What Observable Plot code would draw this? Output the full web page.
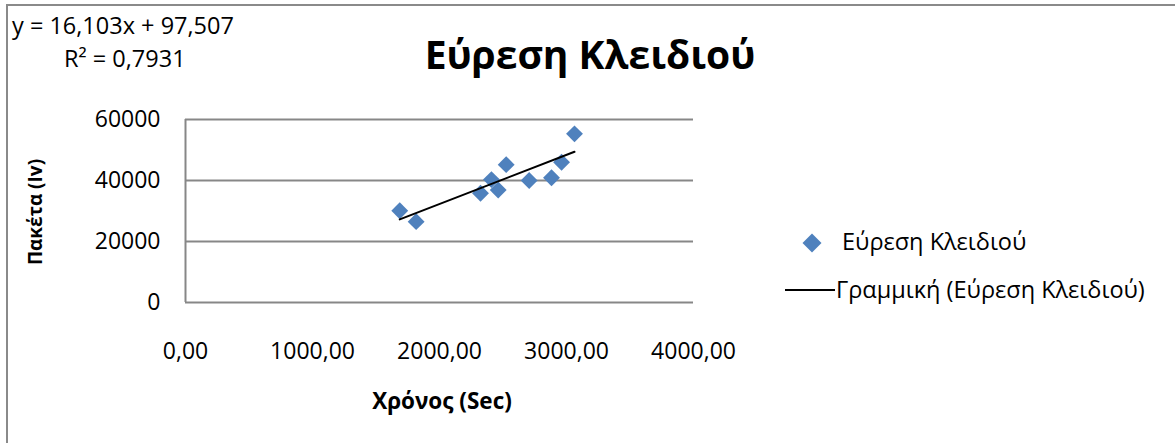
<!DOCTYPE html>
<html><head><meta charset="utf-8">
<script src="https://cdn.jsdelivr.net/npm/d3@7"></script>
<script src="https://cdn.jsdelivr.net/npm/@observablehq/plot@0.6"></script>
<style>
body{margin:0;background:#fff;}
#wrap{position:relative;width:1175px;height:443px;overflow:hidden;font-family:"Open Sans",sans-serif;background:#fff;}
#frame{position:absolute;left:6px;top:4px;width:1300px;height:600px;border-left:2px solid #8a8a8a;border-top:2px solid #8a8a8a;}
#chart{position:absolute;left:0;top:0;}
#overlay{position:absolute;left:0;top:0;}
</style></head><body>
<div id="wrap"><div id="frame"></div><div id="chart"></div>
<svg id="overlay" width="1175" height="443" font-family="Open Sans" fill="#000">
  <text x="12" y="34" font-size="23.5">y = 16,103x + 97,507</text>
  <text x="64" y="67" font-size="23.5">R² = 0,7931</text>
  <text x="590" y="69" font-size="39" font-weight="bold" text-anchor="middle">Εύρεση Κλειδιού</text>
  <text transform="translate(42,212) rotate(-90)" font-size="19" font-weight="bold" text-anchor="middle">Πακέτα (Iv)</text>
  <text x="442" y="409" font-size="22.5" font-weight="bold" text-anchor="middle">Χρόνος (Sec)</text>
  <path d="M812,233.5 L821.5,243 L812,252.5 L802.5,243 Z" fill="#4F81BD"/>
  <text x="842" y="250" font-size="23.5">Εύρεση Κλειδιού</text>
  <line x1="785" x2="835" y1="290" y2="290" stroke="#000" stroke-width="2"/>
  <text x="836" y="298" font-size="23.5">Γραμμική (Εύρεση Κλειδιού)</text>
</svg>
</div>
<script>
const times = [1687, 1816, 2323, 2409, 2462, 2525, 2706, 2882, 2961, 3063];
const packets = [30100, 26500, 35800, 40300, 36900, 45200, 40000, 40900, 46000, 55300];
const slope = 16.103, intercept = 97.507;
const xTicks = [0, 1000, 2000, 3000, 4000];
const yTicks = [0, 20000, 40000, 60000];

const data = times.map((t, i) => ({t, p: packets[i]}));
const trend = [d3.min(times), d3.max(times)].map(t => ({t, p: slope * t + intercept}));

const chart = Plot.plot({
  width: 1175, height: 443,
  marginLeft: 185, marginRight: 482, marginTop: 119, marginBottom: 141,
  style: {fontFamily: "Open Sans", fontSize: "23px", color: "#000", background: "transparent", overflow: "visible"},
  x: {domain: [0, 4000], ticks: xTicks, tickFormat: d => d.toFixed(2).replace(".", ","), tickSize: 0, tickPadding: 40, label: null},
  y: {domain: [0, 60000], ticks: yTicks, tickFormat: d => String(d), tickSize: 0, tickPadding: 25, label: null},
  marks: [
    Plot.ruleY(yTicks, {stroke: "#878787", strokeWidth: 2}),
    Plot.ruleX([0], {stroke: "#878787", strokeWidth: 2}),
    Plot.dot(data, {x: "t", y: "p", symbol: "diamond2", r: 7.6, fill: "#4F81BD", stroke: "none"}),
    Plot.line(trend, {x: "t", y: "p", stroke: "#000", strokeWidth: 2})
  ]
});
document.getElementById("chart").appendChild(chart);
</script>
</body></html>
